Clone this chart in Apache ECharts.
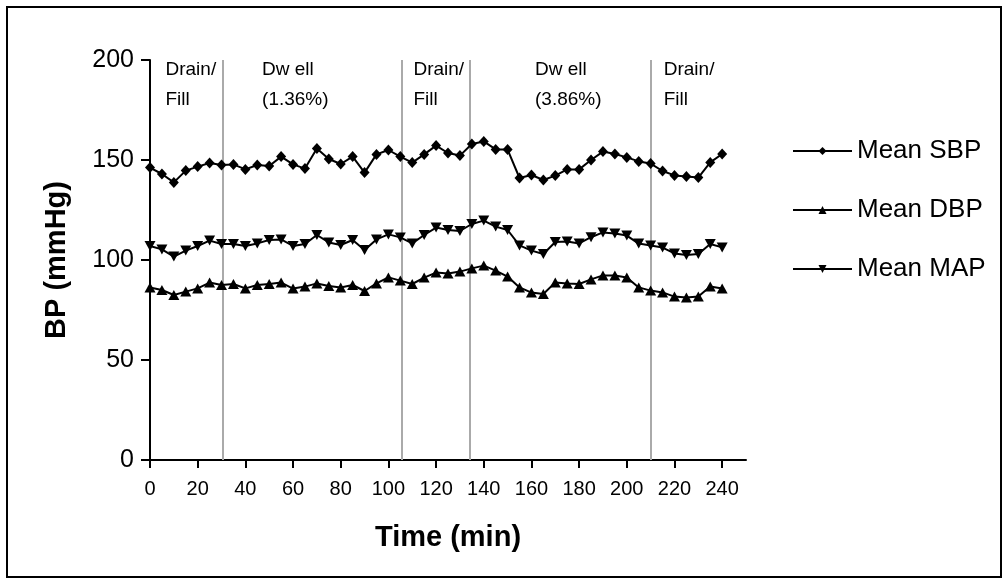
<!DOCTYPE html>
<html>
<head>
<meta charset="utf-8">
<script src="https://cdn.jsdelivr.net/npm/echarts@6/dist/echarts.min.js"></script>
<style>html,body{margin:0;padding:0;background:#fff}#c{width:1005px;height:579px}</style>
</head>
<body>
<div id="c"></div>
<script>
const times = [0,5,10,15,20,25,30,35,40,45,50,55,60,65,70,75,80,85,90,95,100,105,110,115,120,125,130,135,140,145,150,155,160,165,170,175,180,185,190,195,200,205,210,215,220,225,230,235,240];
const meanSBP = [146.2,143,138.8,144.7,146.7,148.5,147.5,147.8,145.3,147.5,147,151.7,147.8,145.7,155.7,150.5,148,151.7,143.7,152.8,155,151.7,148.7,152.8,157.2,153.5,152.2,158,159.3,155.3,155.2,141,142.5,140,142.2,145.3,145.3,150,154.2,153,151.3,149.3,148.2,144.5,142.3,141.7,141.2,148.8,153];
const meanDBP = [86.2,85,82.5,84.2,85.8,88.7,87.5,88,85.8,87.5,88,88.7,85.7,86.7,88.3,87,86.3,87.5,84.5,88.3,91.3,89.7,88,91.2,93.7,93.2,94.2,95.8,97.2,94.7,91.7,86.3,83.7,83,88.8,88.3,88,90.3,92.3,92.3,91.3,86.3,84.7,83.8,81.7,81.2,81.7,86.7,85.8];
const meanMAP = [107,105.3,101.7,104.7,107,109.7,108,108,107,108.3,110,110.3,107,108,112.5,108.8,107.5,110,105,110.3,112.8,111.3,108.3,112.5,116.2,115,114.5,118,119.7,116.7,115,107.3,104.7,103,109,109.3,108.3,111.4,113.8,113.3,112.2,108.2,107.3,106.2,103.3,102.5,103,108,106.3];
const xTicks = [0,20,40,60,80,100,120,140,160,180,200,220,240];
const phaseBoundaries = [30.7,105.5,134.1,210];
const phaseLabels = ['Drain/\nFill','Dw ell\n(1.36%)','Drain/\nFill','Dw ell\n(3.86%)','Drain/\nFill'];
const phaseLabelStarts = [6.5,47,110.5,161.5,215.5];
const seriesNames = ['Mean SBP','Mean DBP','Mean MAP'];

const FONT = '"Liberation Sans", Arial, Helvetica, sans-serif';
const pair = arr => times.map((t,i)=>[t,arr[i]]);
const chart = echarts.init(document.getElementById('c'), null, {renderer:'canvas'});

const base = {type:'line', showSymbol:true, symbolSize:10, lineStyle:{color:'#000',width:2}, itemStyle:{color:'#000'}, animation:false, z:3};

const option = {
  backgroundColor:'#fff',
  animation:false,
  grid:{left:150,right:259,top:60,bottom:119,outerBoundsMode:'none'},
  legend:{
    orient:'vertical', left:787, top:133, itemWidth:59, itemHeight:10, itemGap:33,
    textStyle:{fontSize:26, color:'#000', fontFamily:FONT, padding:[0,0,0,0]},
    data:seriesNames
  },
  xAxis:{
    type:'value', min:0, max:250, interval:20,
    name:'Time (min)', nameLocation:'middle', nameGap:63,
    nameTextStyle:{fontSize:29, fontWeight:'bold', color:'#000', fontFamily:FONT},
    axisLine:{show:true,onZero:false,lineStyle:{color:'#000',width:2}},
    axisTick:{show:true,length:8,inside:false,lineStyle:{color:'#000',width:2},customValues:xTicks},
    axisLabel:{fontSize:20,color:'#000',fontFamily:FONT,margin:19,customValues:xTicks},
    splitLine:{show:false}
  },
  yAxis:{
    type:'value', min:0, max:200, interval:50,
    name:'BP (mmHg)', nameLocation:'middle', nameGap:79, nameRotate:90,
    nameTextStyle:{fontSize:29, fontWeight:'bold', color:'#000', fontFamily:FONT},
    axisLine:{show:true,lineStyle:{color:'#000',width:2}},
    axisTick:{show:true,length:9,lineStyle:{color:'#000',width:2}},
    axisLabel:{fontSize:25,color:'#000',fontFamily:FONT,margin:16},
    splitLine:{show:false}
  },
  series:[
    Object.assign({}, base, {name:seriesNames[0], symbol:'diamond', symbolSize:[10,11], data:pair(meanSBP),
      markLine:{silent:true, symbol:'none', label:{show:false}, lineStyle:{color:'#aaaaaa',width:2,type:'solid'}, z:1,
        data:phaseBoundaries.map(v=>({xAxis:v}))}}),
    Object.assign({}, base, {name:seriesNames[1], symbol:'triangle', symbolSize:[11,10], data:pair(meanDBP)}),
    Object.assign({}, base, {name:seriesNames[2], symbol:'triangle', symbolRotate:180, symbolSize:[11,10], data:pair(meanMAP)})
  ]
};
chart.setOption(option);

const graphics = [{
  type:'rect', shape:{x:7,y:7,width:994,height:570}, style:{fill:'none',stroke:'#000',lineWidth:2}, silent:true, z:100
}];
phaseLabels.forEach((txt,i)=>{
  const p = chart.convertToPixel({gridIndex:0},[phaseLabelStarts[i],200]);
  graphics.push({type:'text', left:p[0], top:55, style:{text:txt, font:'19px '+FONT, fill:'#000', lineHeight:30}, silent:true, z:50});
});
chart.setOption({graphic:graphics});
</script>
</body>
</html>
